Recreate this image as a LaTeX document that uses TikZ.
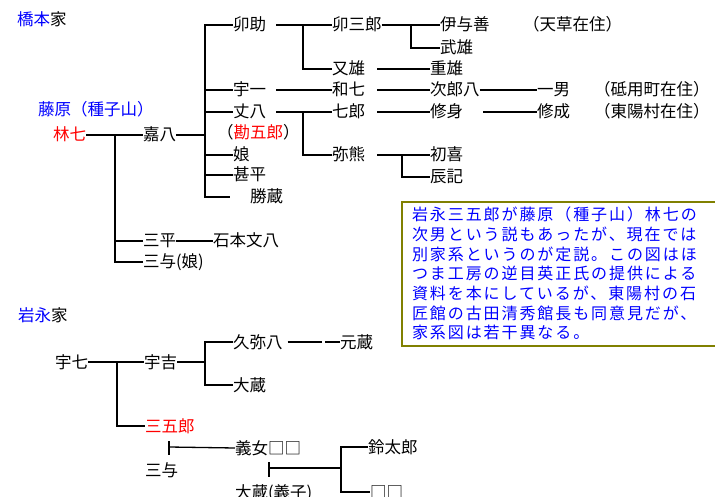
\documentclass[tikz,border=0pt]{standalone}
\usepackage{fontspec}
\setmainfont{Noto Sans CJK JP}
\newfontfamily\boxfont[LetterSpace=12]{Noto Sans CJK JP}
\definecolor{olivebd}{RGB}{128,128,0}
\definecolor{pblue}{RGB}{0,0,255}
\definecolor{pred}{RGB}{255,0,0}
\begin{document}
\begin{tikzpicture}[x=1pt,y=-1pt,
  nm/.style={anchor=west, inner sep=0pt, outer sep=0pt, font=\fontsize{16.5}{18}\selectfont, text height=13pt, text depth=1pt},
  ln/.style={line width=1.3pt, black},
  notebox/.style={draw=olivebd, line width=2pt},
  notetext/.style={anchor=north west, inner sep=0pt, outer sep=0pt, align=left, text=pblue, font=\boxfont\fontsize{16}{19.7}\selectfont}]
\useasboundingbox (0,0) rectangle (715,497);
% ---------- 橋本家 ----------
\node[nm] (hashi) at (17,20) {\textcolor{pblue}{橋本}家};
\node[nm,text=pblue] (fuji) at (38,110) {藤原（種子山）};
\node[nm,text=pred] (rin) at (53,135) {林七};
\node[nm] (ka) at (143,135) {嘉八};
\node[nm] (usuke) at (233,25) {卯助};
\node[nm] (uichi) at (233,90) {宇一};
\node[nm] (johachi) at (233,112) {丈八};
\node[nm] (kangoro) at (217,133) {（\textcolor{pred}{勘五郎}）};
\node[nm] (musume) at (233,155) {娘};
\node[nm] (jinpei) at (233,175) {甚平};
\node[nm] (katsuzo) at (250,197) {勝蔵};
\node[nm] (usaburo) at (332,25) {卯三郎};
\node[nm] (mata) at (332,69) {又雄};
\node[nm] (wa7) at (332,90) {和七};
\node[nm] (shichiro) at (332,112) {七郎};
\node[nm] (yakuma) at (332,155) {弥熊};
\node[nm] (iyozen) at (440,25) {伊与善};
\node[nm] (takeo) at (440,48) {武雄};
\node[nm] (shigeo) at (430,69) {重雄};
\node[nm] (jirohachi) at (430,90) {次郎八};
\node[nm] (osami) at (430,112) {修身};
\node[nm] (hatsuki) at (430,155) {初喜};
\node[nm] (tatsuki) at (430,177) {辰記};
\node[nm] (amakusa) at (523,25) {（天草在住）};
\node[nm] (kazuo) at (537,90) {一男};
\node[nm] (osanari) at (537,112) {修成};
\node[nm] (tomochi) at (594,90) {（砥用町在住）};
\node[nm] (toyo) at (594,112) {（東陽村在住）};
\node[nm] (sanpei) at (143,241) {三平};
\node[nm] (ishimoto) at (213,241) {石本文八};
\node[nm] (sanyo) at (143,262) {三与(娘)};
% lines
\draw[ln] (rin.east) -- (ka.west);
\coordinate (j1) at (115,135);
\draw[ln] (j1) |- (sanpei.west);
\draw[ln] (j1) |- (sanyo.west);
\draw[ln] (sanpei.east) -- (ishimoto.west);
\coordinate (j2) at (205,135);
\draw[ln] (ka.east) -- (j2);
\draw[ln] (j2) |- (usuke.west);
\draw[ln] (j2) |- (uichi.west);
\draw[ln] (j2) |- (johachi.west);
\draw[ln] (j2) |- (musume.west);
\draw[ln] (j2) |- (jinpei.west);
\coordinate (kz) at ([xshift=-20pt]katsuzo.west);
\draw[ln] (j2) |- (kz);
\draw[ln] ([xshift=10pt]usuke.east) -- (usaburo.west);
\coordinate (j3) at (303,25);
\draw[ln] (j3) |- (mata.west);
\draw[ln] ([xshift=10pt]uichi.east) -- (wa7.west);
\draw[ln] ([xshift=10pt]johachi.east) -- (shichiro.west);
\coordinate (j4) at (303,112);
\draw[ln] (j4) |- (yakuma.west);
\draw[ln] (usaburo.east) -- (iyozen.west);
\coordinate (j5) at (411,25);
\draw[ln] (j5) |- (takeo.west);
\draw[ln] ([xshift=12pt]mata.east) -- (shigeo.west);
\draw[ln] ([xshift=12pt]wa7.east) -- (jirohachi.west);
\draw[ln] ([xshift=12pt]shichiro.east) -- (osami.west);
\draw[ln] ([xshift=12pt]yakuma.east) -- (hatsuki.west);
\coordinate (j6) at (402,155);
\draw[ln] (j6) |- (tatsuki.west);
\draw[ln] (jirohachi.east) -- (kazuo.west);
\draw[ln] ([xshift=20pt]osami.east) -- (osanari.west);
% ---------- note ----------
\draw[notebox] (402,202) rectangle (725,346);
\node[notetext] (note) at (412,207) {岩永三五郎が藤原（種子山）林七の\\次男という説もあったが、現在では\\別家系というのが定説。この図はほ\\つま工房の逆目英正氏の提供による\\資料を本にしているが、東陽村の石\\匠館の古田清秀館長も同意見だが、\\家系図は若干異なる。};
% ---------- 岩永家 ----------
\node[nm] (iwa) at (18,315) {\textcolor{pblue}{岩永}家};
\node[nm] (u7) at (55,362) {宇七};
\node[nm] (ukichi) at (144,362) {宇吉};
\node[nm,text=pred] (sangoro) at (145,426) {三五郎};
\node[nm] (kyuyahachi) at (233,342) {久弥八};
\node[nm] (genzo) at (340,342) {元蔵};
\node[nm] (ozo) at (233,385) {大蔵};
\node[nm] (yojo) at (235,448) {義女□□};
\node[nm] (sanyo2) at (145,470) {三与};
\node[nm] (suzu) at (368,447) {鈴太郎};
\node[nm] (boxes) at (370,492) {□□};
\node[nm] (ozo2) at (235,492) {大蔵(義子)};
\draw[ln] (u7.east) -- (ukichi.west);
\coordinate (j7) at (117,362);
\draw[ln] (j7) |- (sangoro.west);
\coordinate (j8) at (205,362);
\draw[ln] (ukichi.east) -- (j8);
\draw[ln] (j8) |- (kyuyahachi.west);
\draw[ln] (j8) |- (ozo.west);
\coordinate (g1) at (322,342);
\coordinate (g2) at (325,342);
\draw[ln] ([xshift=5pt]kyuyahachi.east) -- (g1);
\draw[ln] (g2) -- (genzo.west);
\coordinate (t1a) at (169,441);
\coordinate (t1b) at (169,455);
\coordinate (t1m) at (169,447);
\draw[ln] (t1a) -- (t1b);
\draw[ln] (t1m) -- (yojo.west);
\coordinate (t2a) at (269,462);
\coordinate (t2b) at (269,477);
\coordinate (t2m) at (269,468);
\coordinate (j9) at (341,468);
\draw[ln] (t2a) -- (t2b);
\draw[ln] (t2m) -- (j9);
\draw[ln] (j9) |- (suzu.west);
\draw[ln] (j9) |- (boxes.west);
\end{tikzpicture}
\end{document}
